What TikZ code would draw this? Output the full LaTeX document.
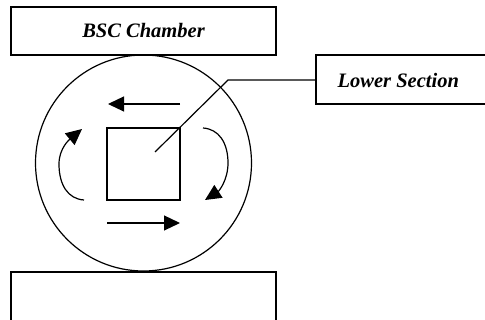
\documentclass[tikz,border=0pt]{standalone}
\usepackage{fontspec}
\setmainfont{Liberation Serif}
\usetikzlibrary{arrows.meta}
\begin{document}
\begin{tikzpicture}[x=1pt,y=-1pt,
  line width=1.2pt,
  box/.style={draw,line width=1.2pt},
  lbl/.style={font=\fontsize{20.5}{24}\selectfont\bfseries\itshape,inner sep=0pt},
  flow/.style={line width=1.2pt,-{Triangle[length=16pt,width=15pt]}}]
\useasboundingbox (0,0) rectangle (485,320);
\begin{scope}
\clip (0,0) rectangle (485,320);
% top and bottom boxes
\draw[box] (11,7) rectangle (276,55);
\node[lbl] (bsc) at (143.5,31) {BSC Chamber};
\draw[box] (11,272) rectangle (276,320.5);
\coordinate (bot) at (143.5,296);
% circle
\draw (143.5,163) circle (108);
% square
\draw (107,128) rectangle (180,200);
\coordinate (sq) at (155,152);
% lower section box
\draw[box] (316,55) rectangle (488,104);
\node[lbl,anchor=west] (ls) at (337,80) {Lower Section};
\coordinate (lsl) at (316,80);
\coordinate (bend) at (228,80);
\draw (lsl) -- (bend) -- (sq);
% arrows
\coordinate (ta) at (180,104);
\coordinate (tb) at (108,104);
\draw[flow] (ta) -- (tb);
\coordinate (ba) at (107,223);
\coordinate (bb) at (180,223);
\draw[flow] (ba) -- (bb);
\draw[flow] (84,200) .. controls (68,199) and (59,185) .. (59,164) .. controls (59,148) and (70,139) .. (82,129);
\draw[flow] (203,128) .. controls (219,129) and (228,143) .. (228,163) .. controls (228,180) and (219,191) .. (205,200);
\end{scope}
\end{tikzpicture}
\end{document}
